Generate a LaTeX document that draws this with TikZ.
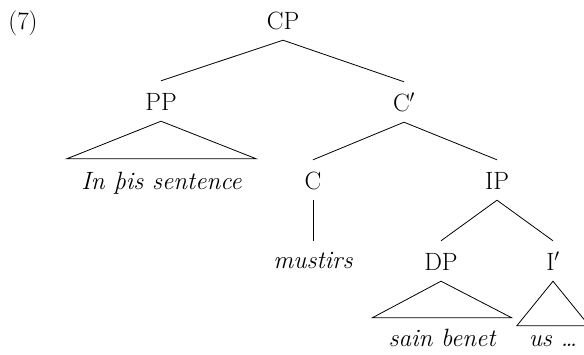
\documentclass[tikz,border=0pt]{standalone}
\begin{document}
\begin{tikzpicture}[x=1pt,y=-1pt,
  treefont/.style={font=\fontsize{25}{30}\selectfont},
  exnum/.style={treefont, anchor=base, inner sep=0pt},
  % category labels: fixed box so branches meet them at a constant gap
  cat/.style={treefont, anchor=base, inner sep=0pt, text height=30pt, text depth=10pt},
  % terminal strings, set in italics
  leaf/.style={font=\fontsize{25}{30}\selectfont\itshape, anchor=base, inner sep=0pt, text depth=0pt},
  branch/.style={line width=0.8pt, line join=miter},
]
\useasboundingbox (0,0) rectangle (584,355);

% example number
\node[exnum] (ex) at (23,30) {(7)};

% phrase structure labels
\node[cat] (cp)   at (283,30)  {CP};
\node[cat] (pp)   at (161,111) {PP};
\node[cat] (cbar) at (404,112) {C$'$};
\node[cat] (c)    at (313,190) {C};
\node[cat] (ip)   at (497,190) {IP};
\node[cat] (dp)   at (441,271) {DP};
\node[cat] (ibar) at (553,271) {I$'$};

% terminal strings
\node[leaf, text height=31pt, minimum width=189pt] (ppw) at (161.5,190) {In þis sentence};
\node[leaf, text height=28pt] (cw) at (313,269) {mustirs};
\node[leaf, text height=29pt, minimum width=139pt] (dpw) at (442,347) {sain benet};
\node[leaf, text height=21pt, minimum width=72pt] (ibw) at (553,347) {us \dots};

% branches
\draw[branch] (cp.south) -- (pp.north);
\draw[branch] (cp.south) -- (cbar.north);
\draw[branch] (cbar.south) -- (c.north);
\draw[branch] (cbar.south) -- (ip.north);
\draw[branch] (c.south) -- (cw.north);
\draw[branch] (ip.south) -- (dp.north);
\draw[branch] (ip.south) -- (ibar.north);

% roofs over unanalysed constituents
\draw[branch] (pp.south) -- (ppw.north west) -- (ppw.north east) -- cycle;
\draw[branch] (dp.south) -- (dpw.north west) -- (dpw.north east) -- cycle;
\draw[branch] (ibar.south) -- (ibw.north west) -- (ibw.north east) -- cycle;
\end{tikzpicture}
\end{document}
